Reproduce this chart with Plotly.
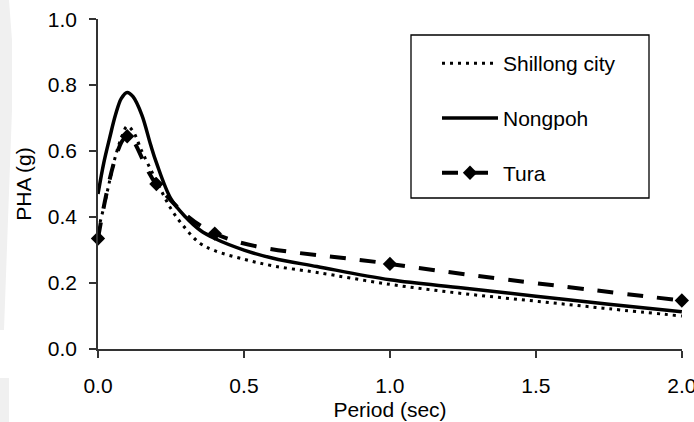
import plotly.graph_objects as go

# Data
period = [0.0, 0.02, 0.04, 0.06, 0.08, 0.10, 0.12, 0.15, 0.18, 0.20, 0.25,
          0.30, 0.35, 0.40, 0.50, 0.60, 0.75, 1.00, 1.25, 1.50, 1.75, 2.00]
shillong = [0.36, 0.43, 0.51, 0.585, 0.64, 0.675, 0.66, 0.60, 0.545, 0.51, 0.425,
            0.365, 0.32, 0.298, 0.272, 0.252, 0.232, 0.196, 0.168, 0.145, 0.122, 0.10]
nongpoh = [0.47, 0.565, 0.64, 0.71, 0.76, 0.778, 0.765, 0.71, 0.62, 0.565, 0.455,
           0.40, 0.36, 0.335, 0.30, 0.275, 0.25, 0.21, 0.185, 0.16, 0.136, 0.113]
tura_period = [0.0, 0.1, 0.2, 0.4, 1.0, 2.0]
tura = [0.335, 0.645, 0.50, 0.35, 0.258, 0.147]

x_ticks = [0.0, 0.5, 1.0, 1.5, 2.0]
y_ticks = [0.0, 0.2, 0.4, 0.6, 0.8, 1.0]

FONT = "Liberation Sans, Arial, sans-serif"
FS = 21

fig = go.Figure()
fig.add_trace(go.Scatter(
    x=period, y=shillong, mode="lines", name="Shillong city",
    legendgroup="a",
    line=dict(color="black", width=3, dash="3px,5px", shape="spline"),
))
fig.add_trace(go.Scatter(
    x=period, y=nongpoh, mode="lines", name="Nongpoh",
    legendgroup="b",
    line=dict(color="black", width=3.5, shape="spline"),
))
fig.add_trace(go.Scatter(
    x=tura_period, y=tura, mode="lines+markers", name="Tura",
    legendgroup="c", cliponaxis=False,
    line=dict(color="black", width=4, dash="16px,14px", shape="spline"),
    marker=dict(symbol="diamond", size=11, color="black"),
))

L, R, T, B = 98, 12, 19, 73
W, H = 694, 422
pw, ph = W - L - R, H - T - B

def px_to_paper_x(px):
    return (px - L) / pw

def px_to_paper_y(py):
    return (H - B - py) / ph

def path_px(points):
    parts = []
    for i, (a, b) in enumerate(points):
        parts.append(("M" if i == 0 else "L") + f"{px_to_paper_x(a):.5f},{px_to_paper_y(b):.5f}")
    return " ".join(parts) + " Z"

# faint background watermark on the left edge
fig.add_shape(type="path", xref="paper", yref="paper", layer="below",
              path=path_px([(0, 0), (9, 0), (12, 40), (12, 110), (8, 220), (4, 330), (0, 330)]),
              line=dict(width=0), fillcolor="#f0f0f0")
fig.add_shape(type="path", xref="paper", yref="paper", layer="below",
              path=path_px([(0, 378), (9, 378), (9, 422), (0, 422)]),
              line=dict(width=0), fillcolor="#f0f0f0")

# legend frame
fig.add_shape(type="rect", xref="paper", yref="paper",
              x0=px_to_paper_x(411), x1=px_to_paper_x(649),
              y0=px_to_paper_y(198), y1=px_to_paper_y(35),
              line=dict(color="black", width=1.3), fillcolor="rgba(0,0,0,0)")

axis_common = dict(
    showgrid=False, zeroline=False, showline=True, linecolor="#333333", linewidth=1.5,
    ticks="outside", ticklen=7, tickwidth=1.5, tickcolor="#333333",
    tickfont=dict(family=FONT, size=FS, color="black"),
    title_font=dict(family=FONT, size=FS, color="black"),
    automargin=False,
)

fig.update_layout(
    width=W, height=H,
    margin=dict(l=L, r=R, t=T, b=B, pad=0),
    paper_bgcolor="white", plot_bgcolor="rgba(0,0,0,0)",
    font=dict(family=FONT, size=FS, color="black"),
    xaxis=dict(range=[0, 2.0005], tickvals=x_ticks, ticktext=[f"{v:.1f}" for v in x_ticks],
               title=dict(text="Period (sec)", standoff=6), ticklabelstandoff=10,
               ticklabeloverflow="allow",
               **axis_common),
    yaxis=dict(range=[0, 1.0005], tickvals=y_ticks, ticktext=[f"{v:.1f}" for v in y_ticks],
               title=dict(text="PHA (g)", standoff=10), ticklabelstandoff=8,
               **axis_common),
    showlegend=True,
    legend=dict(
        x=px_to_paper_x(437), y=px_to_paper_y(43), xanchor="left", yanchor="top",
        bgcolor="rgba(0,0,0,0)", borderwidth=0,
        font=dict(family=FONT, size=FS, color="black"),
        traceorder="grouped", tracegroupgap=24.5, itemwidth=56,
    ),
)

fig.write_html("out.html")
